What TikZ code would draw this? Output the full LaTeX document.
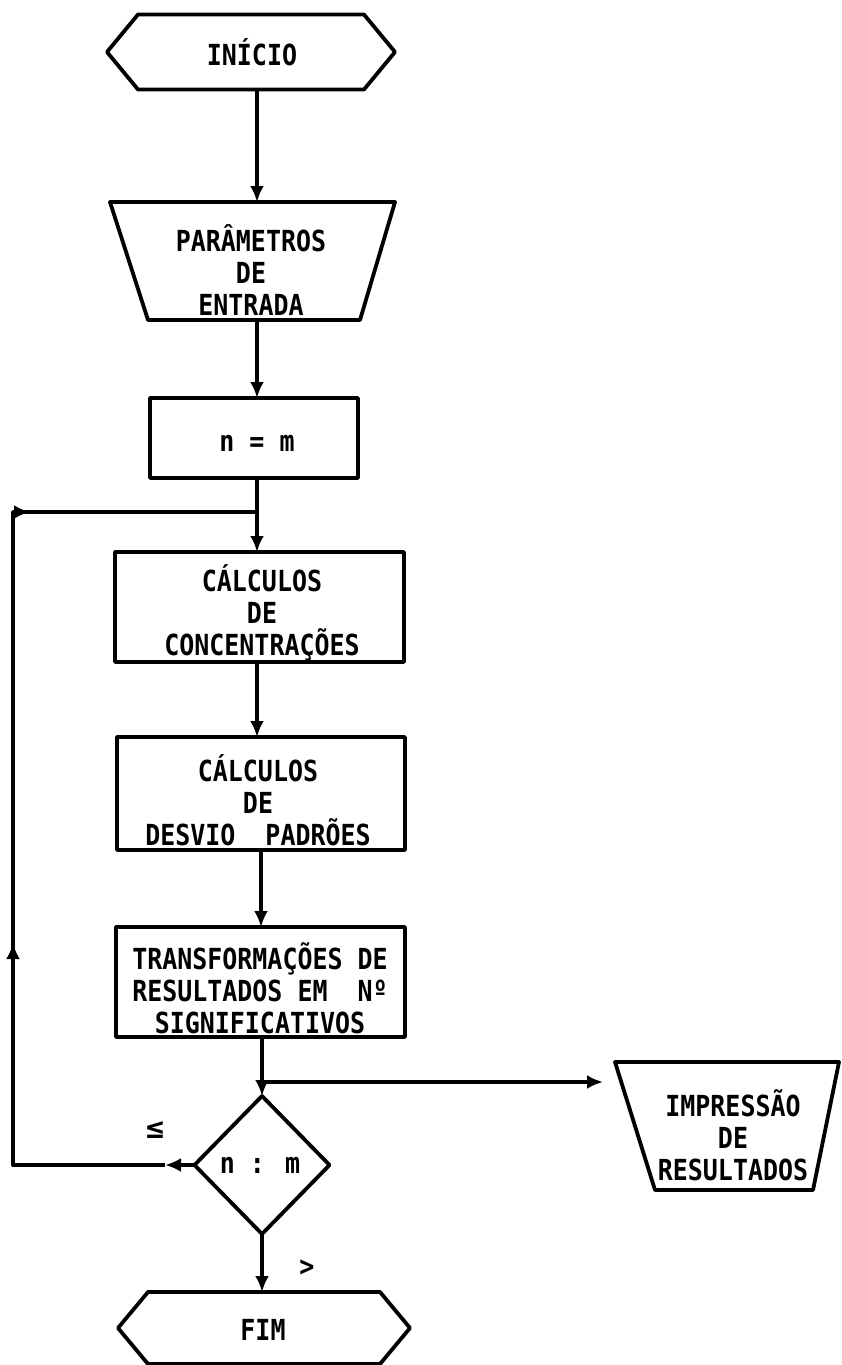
\documentclass[tikz,border=0pt]{standalone}
\usepackage{fontspec}
\setmainfont{DejaVu Sans Mono}[FakeStretch=0.86]
\newfontfamily\symf{DejaVu Sans}[FakeStretch=0.86]
\usetikzlibrary{arrows.meta,calc}
\begin{document}
\begin{tikzpicture}[x=1pt,y=-1pt,
  line width=3.8pt, line join=round,
  shp/.style={inner sep=0pt, outer sep=0pt},
  rbox/.style={draw, inner sep=0pt, outer sep=0pt},
  txt/.style={align=center, inner sep=0pt, font=\bfseries\fontsize{29}{32}\selectfont},
  arr/.style={-{Latex[length=16pt,width=14pt]}}]
\useasboundingbox (0,0) rectangle (842,1365);

% start
\node[shp, minimum width=288pt, minimum height=75pt] (ini) at (251,52) {};
\draw (ini.west) -- ([xshift=31pt]ini.north west) -- ([xshift=-31pt]ini.north east)
  -- (ini.east) -- ([xshift=-31pt]ini.south east) -- ([xshift=31pt]ini.south west) -- cycle;
\node[txt] (iniT) at (252,52) {INÍCIO};

% input parameters
\node[shp, minimum width=285pt, minimum height=118pt] (par) at (252.5,261) {};
\draw (par.north west) -- (par.north east) -- ([xshift=-35pt]par.south east)
  -- ([xshift=38pt]par.south west) -- cycle;
\node[txt] (parT) at (251,270) {PARÂMETROS\\DE\\ENTRADA};

% n = m
\node[rbox, minimum width=208pt, minimum height=80pt] (nm) at (254,438) {};
\node[txt] (nmT) at (257,443) {n = m};

% boxes
\node[rbox, minimum width=289pt, minimum height=110pt] (b1) at (259.5,607) {};
\node[txt] (b1T) at (262,613) {CÁLCULOS\\DE\\CONCENTRAÇÕES};

\node[rbox, minimum width=288pt, minimum height=113pt] (b2) at (261,793.5) {};
\node[txt] (b2T) at (258,800) {CÁLCULOS\\DE\\DESVIO~~PADRÕES};

\node[rbox, minimum width=289pt, minimum height=110pt] (b3) at (260.5,982) {};
\node[txt] (b3T) at (260,988) {TRANSFORMAÇÕES DE\\RESULTADOS EM~~Nº\\SIGNIFICATIVOS};

% decision
\node[shp, minimum width=135pt, minimum height=138pt] (dia) at (262,1165) {};
\draw (dia.north) -- (dia.east) -- (dia.south) -- (dia.west) -- cycle;
\node[txt] (diaT) at (260,1165) {n : m};

% end
\node[shp, minimum width=292pt, minimum height=72pt] (fim) at (264,1328) {};
\draw (fim.west) -- ([xshift=30pt]fim.north west) -- ([xshift=-30pt]fim.north east)
  -- (fim.east) -- ([xshift=-30pt]fim.south east) -- ([xshift=30pt]fim.south west) -- cycle;
\node[txt] (fimT) at (263,1330) {FIM};

% output
\node[shp, minimum width=224pt, minimum height=128pt] (imp) at (727,1126) {};
\draw (imp.north west) -- (imp.north east) -- ([xshift=-26pt]imp.south east)
  -- ([xshift=40pt]imp.south west) -- cycle;
\node[txt] (impT) at (733,1135) {IMPRESSÃO\\DE\\RESULTADOS};

% labels
\node[txt] (le) at (155,1130) {\symf ≤};
\node[txt] (gt) at (307,1268) {>};

% coordinates
\coordinate (join) at (257,512);
\coordinate (br) at (261,1082);
\coordinate (impin) at (603,1082);
\coordinate (ltip) at (165,1165);
\coordinate (lb) at (13,1165);
\coordinate (lt) at (13,512);
\coordinate (upt) at (13,943);
\coordinate (rtip) at (30,512);

% connectors
\draw[arr] ([xshift=6pt]ini.south) -- ([xshift=6pt]ini.south |- par.north);
\draw[arr] ([xshift=4.5pt]par.south) -- ([xshift=4.5pt]par.south |- nm.north);
\draw[arr] ([xshift=3pt]nm.south) -- ([xshift=3pt]nm.south |- b1.north);
\draw[arr] ([xshift=-2.5pt]b1.south) -- ([xshift=-2.5pt]b1.south |- b2.north);
\draw[arr] (b2.south) -- (b2.south |- b3.north);
\draw[arr] (b3.south -| dia.north) -- (dia.north);
\draw[arr] (br) -- (impin);
\draw[arr] (dia.south) -- (dia.south |- fim.north);
\draw[arr] (dia.west) -- (ltip);
\draw (ltip) -- (lb) -- (lt) -- (join);
\draw[arr] (lb) -- (upt);
\draw[arr] (lt) -- (rtip);
\end{tikzpicture}
\end{document}
